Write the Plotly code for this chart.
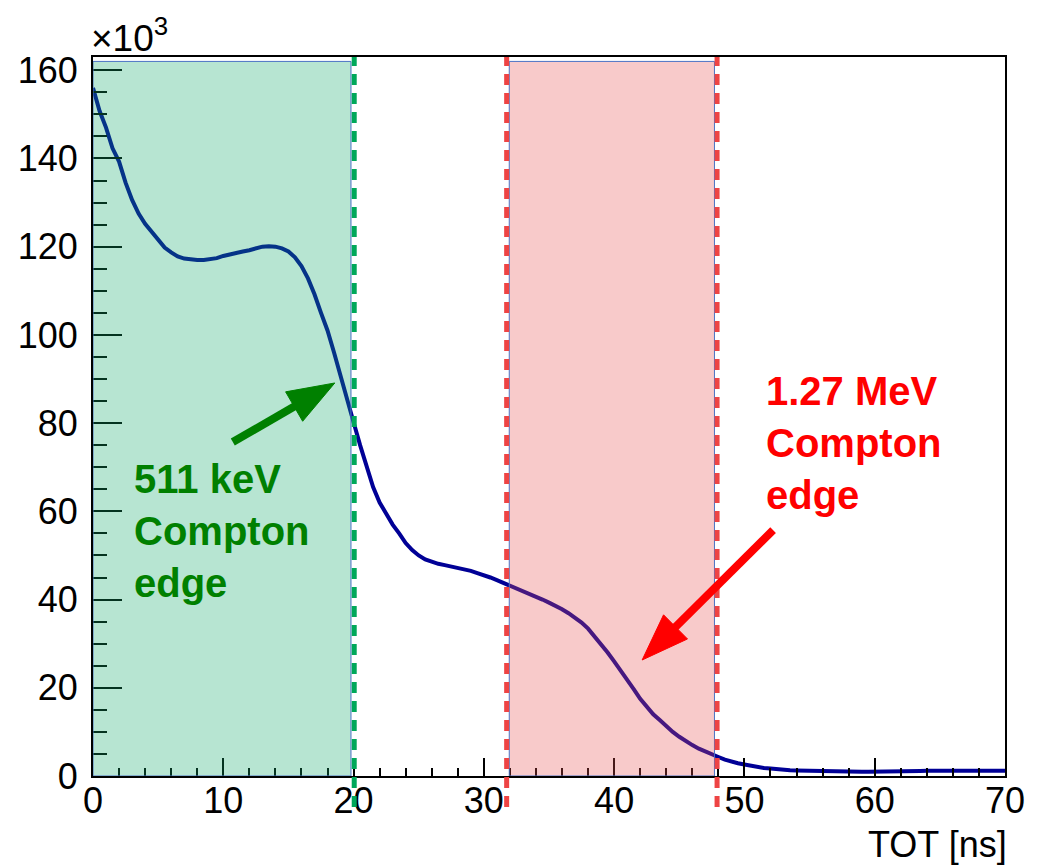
import math
import numpy as np
import plotly.graph_objects as go

# ---- data -----------------------------------------------------------------
# TOT histogram (counts in units of 10^3), sampled every 0.5 ns from 0 to 70 ns
tot_ns = np.arange(0.0, 70.01, 0.5)
counts_k = [
    156.0, 150.8, 147.0, 142.3, 139.3, 134.5, 130.6, 127.5, 125.2, 123.4,   # 0 - 4.5
    121.4, 119.8, 118.7, 117.8, 117.3, 117.1, 117.0, 117.0, 117.2, 117.4,   # 5 - 9.5
    117.9, 118.3, 118.6, 118.9, 119.2, 119.6, 120.0, 120.1, 120.0, 119.6,   # 10 - 14.5
    118.9, 117.6, 115.6, 112.8, 109.2, 105.0, 101.0, 96.0, 90.5, 85.0,      # 15 - 19.5
    80.2, 75.0, 70.0, 65.5, 62.0, 59.5, 57.0, 55.0, 52.8, 51.2,             # 20 - 24.5
    50.0, 49.1, 48.5, 48.1, 47.8, 47.5, 47.3, 46.9, 46.5, 46.0,             # 25 - 29.5
    45.6, 45.0, 44.4, 43.8, 43.2, 42.5, 41.8, 41.2, 40.6, 40.0,             # 30 - 34.5
    39.3, 38.6, 37.8, 36.9, 35.8, 34.8, 33.4, 31.7, 29.9, 28.0,             # 35 - 39.5
    26.0, 24.0, 21.9, 19.7, 17.5, 15.6, 14.0, 12.7, 11.3, 10.0,             # 40 - 44.5
    8.9, 7.9, 7.0, 6.2, 5.5, 4.9, 4.3, 3.7, 3.2, 2.9,                       # 45 - 49.5
    2.6, 2.3, 2.0, 1.8, 1.7, 1.5, 1.4, 1.3, 1.25, 1.2,                      # 50 - 54.5
    1.15, 1.1, 1.05, 1.0, 1.0, 0.95, 0.95, 0.95, 0.95, 0.95,                # 55 - 59.5
    0.95, 0.95, 0.95, 0.95, 0.95, 1.0, 1.0, 1.15, 1.2, 1.2,                 # 60 - 64.5
    1.2, 1.2, 1.2, 1.2, 1.2, 1.2, 1.2, 1.2, 1.2, 1.2,                       # 65 - 69.5
    1.2,                                                                    # 70
]

x_range = [0, 70]
y_range = [0, 163]
x_ticks = [0, 10, 20, 30, 40, 50, 60, 70]
y_ticks = [0, 20, 40, 60, 80, 100, 120, 140, 160]

# selection windows (ns) and their edge markers
window_511 = [0.0, 19.8]
window_1270 = [31.95, 47.7]
window_top = 162.0
edge_511_line = 20.05
edge_1270_lines = [31.75, 47.9]

# annotation arrows: (tail, tip) in data coordinates
arrow_511 = ((10.73, 75.7), (18.56, 89.1))
arrow_1270 = ((52.2, 55.75), (42.15, 26.3))

# ---- layout geometry --------------------------------------------------------
W, H = 1041, 867
M = dict(l=93, r=36, t=57, b=91)
plot_w = W - M["l"] - M["r"]
plot_h = H - M["t"] - M["b"]
PX_X = plot_w / (x_range[1] - x_range[0])
PX_Y = plot_h / (y_range[1] - y_range[0])

GREEN_FILL = "rgba(18,168,105,0.30)"
RED_FILL = "rgba(232,78,78,0.30)"
BOX_EDGE = "#4a72c4"
GREEN_DASH = "#00a85a"
RED_DASH = "#ee4444"
CURVE = "#000096"
FONT = "Liberation Sans, Arial, sans-serif"

fig = go.Figure()
fig.add_trace(go.Scatter(
    x=tot_ns, y=counts_k, mode="lines",
    line=dict(color=CURVE, width=4),
    hoverinfo="skip", showlegend=False,
))

shapes = []
for (x0, x1), fill in ((window_511, GREEN_FILL), (window_1270, RED_FILL)):
    shapes.append(dict(type="rect", xref="x", yref="y", x0=x0, x1=x1, y0=0, y1=window_top,
                       fillcolor=fill, line=dict(color=BOX_EDGE, width=1), layer="above"))

dash_bottom = -31 / plot_h  # the edge markers run a little below the x axis
for xv, col in [(edge_511_line, GREEN_DASH)] + [(v, RED_DASH) for v in edge_1270_lines]:
    shapes.append(dict(type="line", xref="x", yref="paper", x0=xv, x1=xv, y0=dash_bottom, y1=1.0,
                       line=dict(color=col, width=5, dash="11px,8px"), layer="above"))


def arrow_shapes(tail, tip, color, shaft_w=8, head_len=47, head_half=17):
    (tx, ty), (hx, hy) = tail, tip
    dxp, dyp = (hx - tx) * PX_X, (hy - ty) * PX_Y
    d = math.hypot(dxp, dyp)
    ux, uy = dxp / d, dyp / d
    nx, ny = -uy, ux
    bx, by = hx - head_len * ux / PX_X, hy - head_len * uy / PX_Y
    sx, sy = hx - 0.7 * head_len * ux / PX_X, hy - 0.7 * head_len * uy / PX_Y
    c1 = (bx + head_half * nx / PX_X, by + head_half * ny / PX_Y)
    c2 = (bx - head_half * nx / PX_X, by - head_half * ny / PX_Y)
    return [
        dict(type="line", xref="x", yref="y", x0=tx, y0=ty, x1=sx, y1=sy,
             line=dict(color=color, width=shaft_w), layer="above"),
        dict(type="path", xref="x", yref="y",
             path=f"M {hx},{hy} L {c1[0]},{c1[1]} L {c2[0]},{c2[1]} Z",
             fillcolor=color, line=dict(color=color, width=1), layer="above"),
    ]


shapes += arrow_shapes(*arrow_511, "#008000")
shapes += arrow_shapes(*arrow_1270, "#ff0000")

label_font = dict(family=FONT, size=40)
annotations = [
    dict(x=3.0, y=55.5, xref="x", yref="y", xanchor="left", yanchor="middle", align="left",
         text="<b>511 keV<br>Compton<br>edge</b>", showarrow=False,
         font=dict(label_font, color="#008000")),
    dict(x=51.5, y=75.5, xref="x", yref="y", xanchor="left", yanchor="middle", align="left",
         text="<b>1.27 MeV<br>Compton<br>edge</b>", showarrow=False,
         font=dict(label_font, color="#ff0000")),
    dict(x=0, y=1.0, xref="paper", yref="paper", xanchor="left", yanchor="bottom",
         yshift=-4, xshift=-4, text="×10<sup>3</sup>", showarrow=False,
         font=dict(family=FONT, size=37, color="black")),
    dict(x=1.0, y=-68 / plot_h, xref="paper", yref="paper",
         xanchor="right", yanchor="middle", xshift=4, text="TOT [ns]", showarrow=False,
         font=dict(family=FONT, size=36, color="black")),
]

tick_font = dict(family=FONT, size=36, color="black")
fig.update_layout(
    width=W, height=H, margin=M,
    paper_bgcolor="white", plot_bgcolor="white",
    shapes=shapes, annotations=annotations,
    xaxis=dict(range=x_range, tickvals=x_ticks, ticks="inside", ticklen=18, tickwidth=2,
               tickcolor="black", showline=True, linecolor="black", linewidth=2, mirror=True,
               showgrid=False, zeroline=False, tickfont=tick_font, ticklabelstandoff=-8,
               minor=dict(dtick=2, ticks="inside", ticklen=8, tickwidth=2, tickcolor="black",
                          showgrid=False)),
    yaxis=dict(range=y_range, tickvals=y_ticks, ticks="inside", ticklen=29, tickwidth=2,
               tickcolor="black", showline=True, linecolor="black", linewidth=2, mirror=True,
               showgrid=False, zeroline=False, tickfont=tick_font, ticklabelstandoff=6,
               minor=dict(dtick=5, ticks="inside", ticklen=14, tickwidth=2, tickcolor="black",
                          showgrid=False)),
)

fig.write_html("out.html")
